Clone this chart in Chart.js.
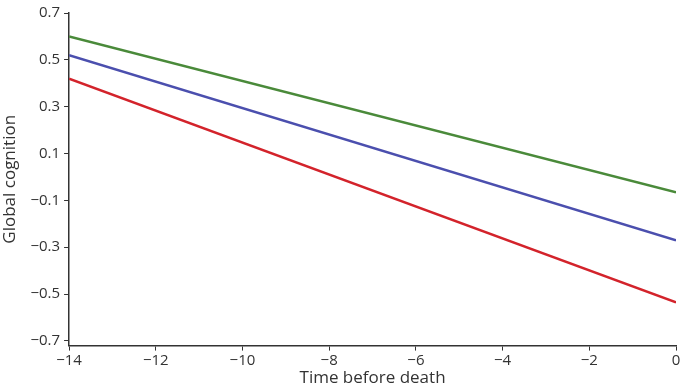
<!DOCTYPE html>
<html>
<head>
<meta charset="utf-8">
<script src="https://cdn.jsdelivr.net/npm/chart.js@4/dist/chart.umd.min.js"></script>
<style>
  html, body { margin: 0; padding: 0; background: #fff; }
  #wrap { width: 682px; height: 388px; }
</style>
</head>
<body>
<div id="wrap"><canvas id="chart"></canvas></div>
<script>
// time before death (years) at the two ends of each fitted line
const timePoints = [-14, 0];
const greenLine = [0.60, -0.065];
const blueLine = [0.52, -0.27];
const redLine = [0.42, -0.535];
const yTicks = [-0.7, -0.5, -0.3, -0.1, 0.1, 0.3, 0.5, 0.7];
const xTicks = [-14, -12, -10, -8, -6, -4, -2, 0];

const toPoints = vals => vals.map((v, i) => ({ x: timePoints[i], y: v }));
const axisColor = '#333';

new Chart(document.getElementById('chart'), {
  type: 'line',
  data: {
    datasets: [
      { data: toPoints(greenLine), borderColor: '#4a8a3a', borderWidth: 2.5, pointRadius: 0 },
      { data: toPoints(blueLine), borderColor: '#4b4fae', borderWidth: 2.5, pointRadius: 0 },
      { data: toPoints(redLine), borderColor: '#d3232b', borderWidth: 2.5, pointRadius: 0 }
    ]
  },
  options: {
    responsive: true,
    maintainAspectRatio: false,
    animation: false,
    layout: { padding: { top: 0, right: 6, left: 0, bottom: 0 } },
    plugins: { legend: { display: false }, tooltip: { enabled: false } },
    scales: {
      x: {
        type: 'linear',
        min: -14, max: 0,
        afterBuildTicks: axis => { axis.ticks = xTicks.map(v => ({ value: v })); },
        grid: { drawOnChartArea: false, drawTicks: true, tickLength: 5, color: axisColor },
        border: { color: axisColor, width: 1.5 },
        ticks: { color: '#333', font: { family: 'Open Sans', size: 15 }, padding: 1,
                 callback: v => String(v).replace('-', '\u2212') },
        title: { display: true, text: 'Time before death', color: '#333',
                 font: { family: 'Open Sans', size: 17 }, padding: { top: -3, bottom: 0 } }
      },
      y: {
        min: -0.72, max: 0.7,
        afterBuildTicks: axis => { axis.ticks = yTicks.map(v => ({ value: v })); },
        grid: { drawOnChartArea: false, drawTicks: true, tickLength: 5, color: axisColor },
        border: { color: axisColor, width: 1.5 },
        ticks: { color: '#333', font: { family: 'Open Sans', size: 15 }, padding: 4,
                 callback: v => v.toFixed(1).replace('-', '\u2212') },
        title: { display: true, text: 'Global cognition', color: '#333',
                 font: { family: 'Open Sans', size: 17 }, padding: { top: 0, bottom: 6 } }
      }
    }
  }
});
</script>
</body>
</html>
